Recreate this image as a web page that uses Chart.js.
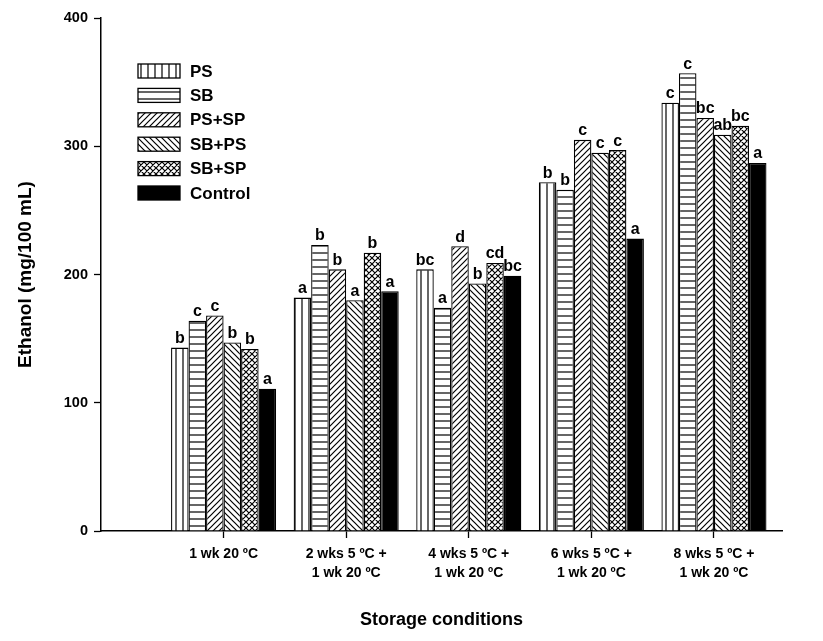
<!DOCTYPE html>
<html>
<head>
<meta charset="utf-8">
<script src="https://cdn.jsdelivr.net/npm/chart.js@4"></script>
<style>
    body { margin: 0; background: #fff; }
    #wrap { width: 823px; height: 641px; }
</style>
</head>
<body>
<div id="wrap"><canvas id="ethanolChart" width="823" height="641"></canvas></div>
<script>
// Data
const categories = [
    ['1 wk 20 ºC'],
    ['2 wks 5 ºC +', '1 wk 20 ºC'],
    ['4 wks 5 ºC +', '1 wk 20 ºC'],
    ['6 wks 5 ºC +', '1 wk 20 ºC'],
    ['8 wks 5 ºC +', '1 wk 20 ºC'],
];
const seriesNames = ['PS', 'SB', 'PS+SP', 'SB+PS', 'SB+SP', 'Control'];
const psValues = [143, 182, 204, 272, 334];
const sbValues = [164, 223, 174, 266, 357];
const psSpValues = [168, 204, 222, 305, 322];
const sbPsValues = [147, 180, 193, 295, 309];
const sbSpValues = [142, 217, 209, 297, 316];
const controlValues = [111, 187, 199, 228, 287];
const psLetters = ['b', 'a', 'bc', 'b', 'c'];
const sbLetters = ['c', 'b', 'a', 'b', 'c'];
const psSpLetters = ['c', 'b', 'd', 'c', 'bc'];
const sbPsLetters = ['b', 'a', 'b', 'c', 'ab'];
const sbSpLetters = ['b', 'b', 'cd', 'c', 'bc'];
const controlLetters = ['a', 'a', 'bc', 'a', 'a'];
const yTicks = [0, 100, 200, 300, 400];

const FONT = "'Liberation Sans', Arial, sans-serif";

// hatch fills, like the sigmaplot ones
function makePattern(kind) {
    const c = document.createElement('canvas');
    const s = kind === 'vert' || kind === 'horiz' ? 7 : 6;
    c.width = s;
    c.height = s;
    const g = c.getContext('2d');
    g.fillStyle = '#fff';
    g.fillRect(0, 0, s, s);
    g.strokeStyle = '#000';
    g.lineWidth = 1.2;
    g.beginPath();
    if (kind === 'vert') {
        g.moveTo(1, 0); g.lineTo(1, s);
    } else if (kind === 'horiz') {
        g.moveTo(0, 1); g.lineTo(s, 1);
    }
    if (kind === 'fwd' || kind === 'cross') {
        g.moveTo(-1, s + 1); g.lineTo(s + 1, -1);
        g.moveTo(-1, 1); g.lineTo(1, -1);
        g.moveTo(s - 1, s + 1); g.lineTo(s + 1, s - 1);
    }
    if (kind === 'back' || kind === 'cross') {
        g.moveTo(-1, -1); g.lineTo(s + 1, s + 1);
        g.moveTo(s - 1, -1); g.lineTo(s + 1, 1);
        g.moveTo(-1, s - 1); g.lineTo(1, s + 1);
    }
    g.stroke();
    return g.createPattern(c, 'repeat');
}

const fills = [
    makePattern('vert'),
    makePattern('horiz'),
    makePattern('fwd'),
    makePattern('back'),
    makePattern('cross'),
    '#000',
];
const allValues = [psValues, sbValues, psSpValues, sbPsValues, sbSpValues, controlValues];
const allLetters = [psLetters, sbLetters, psSpLetters, sbPsLetters, sbSpLetters, controlLetters];

const datasets = seriesNames.map((name, i) => ({
    label: name,
    data: allValues[i].map((v, j) => ({ x: j + 1, y: v })),
    backgroundColor: fills[i],
    borderColor: '#000',
    borderWidth: 1.3,
    letters: allLetters[i],
}));

// letters over each bar
const letterPlugin = {
    id: 'letters',
    afterDatasetsDraw(chart) {
        const ctx = chart.ctx;
        ctx.save();
        ctx.font = 'bold 16px ' + FONT;
        ctx.fillStyle = '#000';
        ctx.textAlign = 'center';
        ctx.textBaseline = 'bottom';
        chart.data.datasets.forEach((ds, i) => {
            chart.getDatasetMeta(i).data.forEach((bar, j) => {
                ctx.fillText(ds.letters[j], bar.x, bar.y - 1);
            });
        });
        ctx.restore();
    }
};

// legend box sitting inside the plot, top left
const legendPlugin = {
    id: 'innerLegend',
    afterDraw(chart) {
        const ctx = chart.ctx;
        ctx.save();
        ctx.font = 'bold 17px ' + FONT;
        ctx.textBaseline = 'middle';
        chart.data.datasets.forEach((ds, i) => {
            const y = 71 + i * 24.4;
            ctx.fillStyle = ds.backgroundColor;
            ctx.fillRect(138, y - 7, 42, 14);
            ctx.strokeStyle = '#000';
            ctx.lineWidth = 1.3;
            ctx.strokeRect(138, y - 7, 42, 14);
            ctx.fillStyle = '#000';
            ctx.fillText(ds.label, 190, y + 1);
        });
        ctx.restore();
    }
};

new Chart(document.getElementById('ethanolChart').getContext('2d'), {
    type: 'bar',
    data: { datasets: datasets },
    options: {
        responsive: false,
        animation: false,
        layout: { padding: { top: 18, right: 41, left: 0, bottom: 0 } },
        datasets: { bar: { categoryPercentage: 0.857, barPercentage: 1 } },
        plugins: { legend: { display: false }, tooltip: { enabled: false } },
        scales: {
            x: {
                type: 'linear',
                min: 0,
                max: 5.555,
                offset: false,
                afterFit: (s) => { s.height = 110; },
                afterBuildTicks: (s) => { s.ticks = categories.map((c, i) => ({ value: i + 1 })); },
                grid: { offset: false, drawOnChartArea: false, drawTicks: true, tickLength: 7, tickColor: '#000', tickWidth: 1.3 },
                border: { display: true, color: '#000', width: 1.5 },
                ticks: {
                    autoSkip: false,
                    maxRotation: 0,
                    padding: 6,
                    color: '#000',
                    font: { family: FONT, size: 14, weight: 'bold', lineHeight: 1.4 },
                    callback: (v) => categories[v - 1],
                },
                title: {
                    display: true,
                    text: 'Storage conditions',
                    color: '#000',
                    font: { family: FONT, size: 18, weight: 'bold' },
                    padding: { bottom: 10 },
                },
            },
            y: {
                min: 0,
                max: 400,
                afterFit: (s) => { s.width = 101; },
                afterBuildTicks: (s) => { s.ticks = yTicks.map(v => ({ value: v })); },
                grid: { drawOnChartArea: false, drawTicks: true, tickLength: 7, tickColor: '#000', tickWidth: 1.3 },
                border: { display: true, color: '#000', width: 1.5 },
                ticks: {
                    padding: 6,
                    color: '#000',
                    font: { family: FONT, size: 14.5, weight: 'bold' },
                },
                title: {
                    display: true,
                    text: 'Ethanol (mg/100 mL)',
                    color: '#000',
                    font: { family: FONT, size: 19, weight: 'bold' },
                    padding: { top: 14 },
                },
            },
        },
    },
    plugins: [letterPlugin, legendPlugin],
});
</script>
</body>
</html>
